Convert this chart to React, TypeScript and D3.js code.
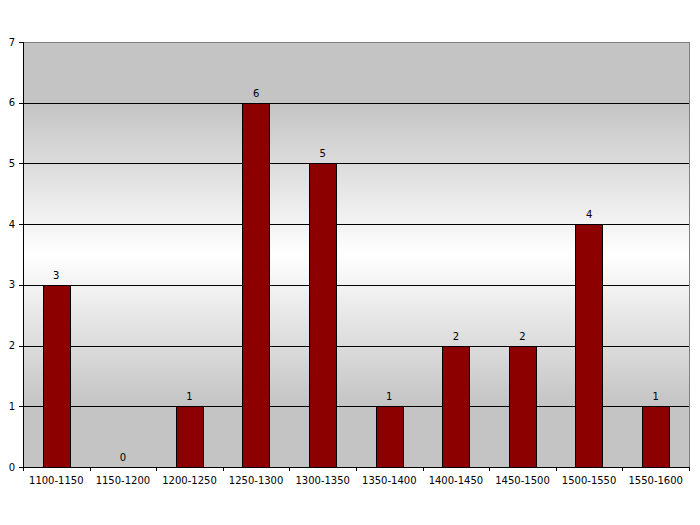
import React from "react";
import * as d3 from "d3";

const categories = ["1100-1150","1150-1200","1200-1250","1250-1300","1300-1350","1350-1400","1400-1450","1450-1500","1500-1550","1550-1600"];
const values = [3,0,1,6,5,1,2,2,4,1];
const yTicks = [0,1,2,3,4,5,6,7];

const W = 700, H = 525;
const left = 23, right = 689, top = 42, bottom = 467;

export default function App() {
  const x = d3.scaleBand<string>().domain(categories).range([left, right]).paddingInner(0.59).paddingOuter(0.295);
  const xStep = d3.scaleBand<string>().domain(categories).range([left, right]);
  const y = d3.scaleLinear().domain([0, 7]).range([bottom, top]);
  const font = "DejaVu Sans, Verdana, sans-serif";
  return (
    <svg width={W} height={H} style={{ position: "absolute", left: 0, top: 0, background: "#fff" }}>
      <defs>
        <linearGradient id="bg" x1="0" y1="0" x2="0" y2="1">
          <stop offset="0" stopColor="#c4c4c4" />
          <stop offset="0.143" stopColor="#c4c4c4" />
          <stop offset="0.5" stopColor="#ffffff" />
          <stop offset="0.857" stopColor="#c4c4c4" />
          <stop offset="1" stopColor="#c4c4c4" />
        </linearGradient>
      </defs>
      <rect x={left} y={top} width={right - left} height={bottom - top} fill="url(#bg)" />
      <line x1={left} x2={right} y1={top + 0.5} y2={top + 0.5} stroke="#808080" />
      <line x1={right + 0.5} x2={right + 0.5} y1={top} y2={bottom} stroke="#808080" />
      {yTicks.slice(1, -1).map(t => (
        <line key={t} x1={left} x2={right} y1={Math.round(y(t)) + 0.5} y2={Math.round(y(t)) + 0.5} stroke="#000" />
      ))}
      {categories.map((c, i) => {
        const yt = y(values[i]);
        return (
          <g key={c}>
            {values[i] > 0 && (
              <rect x={Math.round(x(c)!) + 0.5} y={Math.round(yt) + 0.5} width={Math.round(x.bandwidth())} height={Math.round(bottom - yt)} fill="#8c0000" stroke="#000" />
            )}
            <text x={x(c)! + x.bandwidth() / 2} y={yt - 6} textAnchor="middle" fontSize={10} fontFamily={font} fill="#000">{values[i]}</text>
          </g>
        );
      })}
      {/* axes */}
      <line x1={left + 0.5} x2={left + 0.5} y1={top} y2={bottom + 1} stroke="#000" />
      <line x1={left} x2={right + 1} y1={bottom + 0.5} y2={bottom + 0.5} stroke="#000" />
      {yTicks.map(t => (
        <g key={t}>
          <line x1={left - 4} x2={left} y1={Math.round(y(t)) + 0.5} y2={Math.round(y(t)) + 0.5} stroke="#000" />
          <text x={left - 8} y={y(t) + 3.5} textAnchor="end" fontSize={10} fontFamily={font}>{t}</text>
        </g>
      ))}
      {categories.map((c, i) => (
        <g key={"t" + c}>
          <line x1={Math.round(xStep(c)!) + 0.5} x2={Math.round(xStep(c)!) + 0.5} y1={bottom} y2={bottom + 4} stroke="#000" />
          <text x={xStep(c)! + xStep.bandwidth() / 2} y={484} textAnchor="middle" fontSize={10} fontFamily={font}>{c}</text>
        </g>
      ))}
      <line x1={right + 0.5} x2={right + 0.5} y1={bottom} y2={bottom + 4} stroke="#000" />
    </svg>
  );
}
